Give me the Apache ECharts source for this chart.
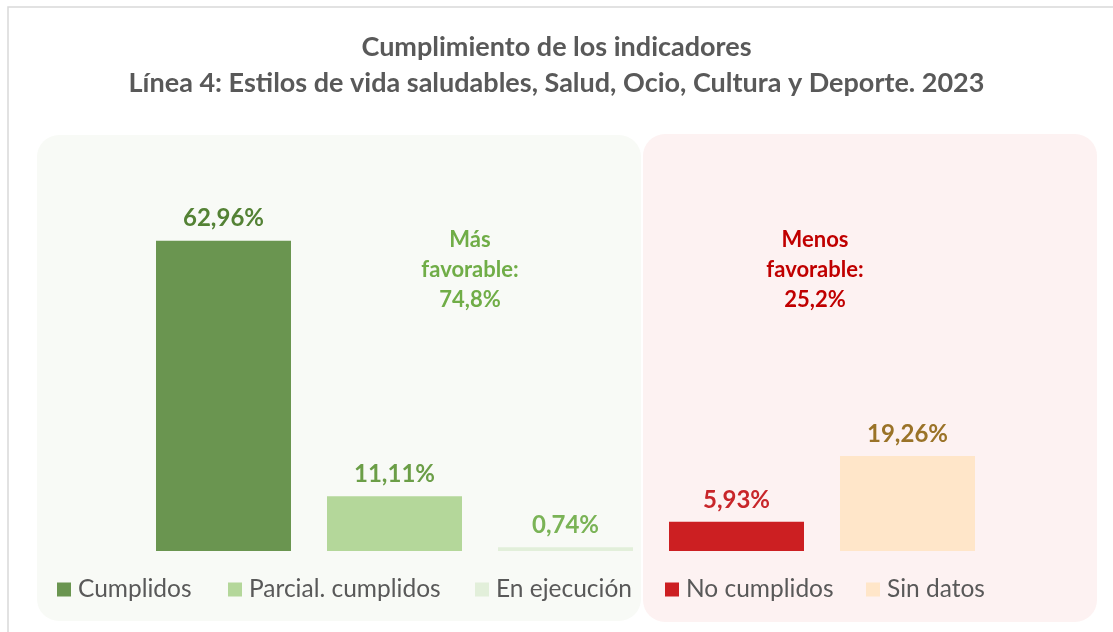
<!DOCTYPE html>
<html>
<head>
<meta charset="utf-8">
<script src="https://cdn.jsdelivr.net/npm/echarts@6/dist/echarts.min.js"></script>
<style>
  html, body { margin: 0; padding: 0; background: #fff; }
  #chart { width: 1113px; height: 632px; }
</style>
</head>
<body>
<div id="chart"></div>
<script>
// datos
const categorias = ['Cumplidos', 'Parcial. cumplidos', 'En ejecución', 'No cumplidos', 'Sin datos'];
const valores = [62.96, 11.11, 0.74, 5.93, 19.26];
const gruposFavorable = [0, 1, 2];   // indices de "Más favorable"
const gruposDesfavorable = [3, 4];   // indices de "Menos favorable"

const coloresBarra = ['#6a9550', '#b4d79a', '#e2efda', '#cc1f22', '#ffe6c9'];
const coloresEtiqueta = ['#548235', '#6b9e47', '#7ab356', '#c8262a', '#9a7328'];
const posLeyenda = [57, 228, 475, 665, 866];

const FONT = 'Lato';
const fmt = (v, d) => v.toFixed(d).replace('.', ',');
const suma = idx => idx.reduce((a, i) => a + valores[i], 0);

const series = categorias.map((c, i) => ({
    name: c,
    type: 'bar',
    data: valores.map((v, j) => j === i ? v : '-'),
    barWidth: 135,
    barGap: '-100%',
    itemStyle: {color: coloresBarra[i]},
    label: {
        show: true,
        position: 'top',
        distance: 10,
        formatter: p => fmt(p.value, 2) + '%',
        color: coloresEtiqueta[i],
        fontFamily: FONT,
        fontWeight: 'bold',
        fontSize: 24
    }
}));

const legends = categorias.map((c, i) => ({
    data: [c],
    left: posLeyenda[i],
    top: 577,
    padding: 0,
    icon: 'rect',
    itemWidth: 14,
    itemHeight: 14,
    itemGap: 6,
    selectedMode: false,
    textStyle: {color: '#595959', fontFamily: FONT, fontSize: 24.5, padding: [0, 0, 0, 2]}
}));

const option = {
    backgroundColor: '#ffffff',
    animation: false,
    title: {
        text: 'Cumplimiento de los indicadores\nLínea 4: Estilos de vida saludables, Salud, Ocio, Cultura y Deporte. 2023',
        left: 'center',
        top: 29,
        padding: 0,
        textStyle: {color: '#595959', fontFamily: FONT, fontWeight: 'bold', fontSize: 27, lineHeight: 36}
    },
    legend: legends,
    grid: {left: 138, right: 120, top: 206, bottom: 81},
    xAxis: {type: 'category', data: categorias, show: false},
    yAxis: {type: 'value', min: 0, max: 70, show: false},
    graphic: [
        {type: 'rect', z: -10, shape: {x: 8, y: 7, width: 1120, height: 640},
         style: {fill: null, stroke: '#d9d9d9', lineWidth: 1.5}},
        {type: 'rect', z: -9, shape: {x: 37, y: 135, width: 604, height: 486, r: 22},
         style: {fill: '#f8faf6'}},
        {type: 'rect', z: -8, shape: {x: 643, y: 134, width: 454, height: 488, r: 22},
         style: {fill: '#fdf2f2'}},
        {type: 'text', z: 5, x: 470, y: 225,
         style: {text: 'Más\nfavorable:\n' + fmt(suma(gruposFavorable), 1) + '%', textAlign: 'center',
                 fill: '#70ad47', font: 'bold 22px ' + FONT, lineHeight: 30}},
        {type: 'text', z: 5, x: 815, y: 225,
         style: {text: 'Menos\nfavorable:\n' + fmt(suma(gruposDesfavorable), 1) + '%', textAlign: 'center',
                 fill: '#c00000', font: 'bold 22px ' + FONT, lineHeight: 30}}
    ],
    series: series
};

const chart = echarts.init(document.getElementById('chart'));
chart.setOption(option);
</script>
</body>
</html>
